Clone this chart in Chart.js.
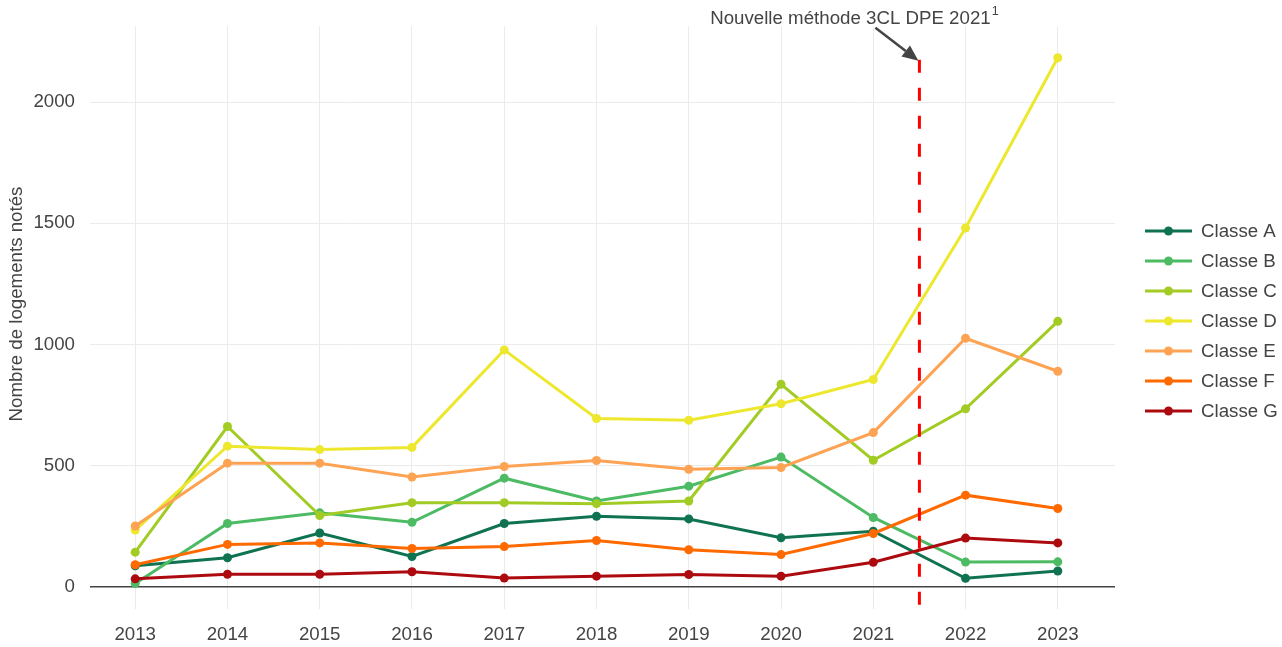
<!DOCTYPE html>
<html>
<head>
<meta charset="utf-8">
<script src="https://cdn.jsdelivr.net/npm/chart.js@4/dist/chart.umd.min.js"></script>
<style>
  html, body { margin: 0; padding: 0; background: #fff; }
  #wrap { width: 1282px; height: 647px; position: relative; }
</style>
</head>
<body>
<div id="wrap"><canvas id="c" width="1282" height="647"></canvas></div>
<script>
const years = [2013, 2014, 2015, 2016, 2017, 2018, 2019, 2020, 2021, 2022, 2023];
const yTickValues = [0, 500, 1000, 1500, 2000];
const seriesNames = ['Classe A', 'Classe B', 'Classe C', 'Classe D', 'Classe E', 'Classe F', 'Classe G'];
const classeA = [88, 121, 223, 126, 262, 292, 281, 203, 230, 36, 66];
const classeB = [15, 262, 306, 267, 449, 355, 416, 536, 287, 103, 104];
const classeC = [144, 662, 295, 348, 348, 344, 355, 836, 523, 735, 1096];
const classeD = [235, 581, 567, 576, 978, 695, 688, 756, 856, 1481, 2183];
const classeE = [252, 511, 511, 454, 497, 522, 486, 493, 637, 1026, 890];
const classeF = [92, 176, 182, 159, 167, 192, 154, 134, 221, 379, 324];
const classeG = [34, 53, 53, 63, 37, 45, 52, 45, 102, 202, 182];
const seriesColors = ['#0f7352', '#4dbb63', '#a2cb24', '#ede82e', '#fea353', '#ff6a00', '#ad0a10'];
const methodYear = 2021.5;
const annotationText = 'Nouvelle méthode 3CL DPE 2021';
const annotationSup = '1';
const yTitle = 'Nombre de logements notés';

const allSeries = [classeA, classeB, classeC, classeD, classeE, classeF, classeG];
const FONT = '"Liberation Sans", Arial, sans-serif';
const FS = 18.7;
const TEXT = '#444';

const datasets = allSeries.map((vals, i) => ({
  label: seriesNames[i],
  data: years.map((y, j) => ({ x: y, y: vals[j] })),
  borderColor: seriesColors[i],
  backgroundColor: seriesColors[i],
  pointBackgroundColor: seriesColors[i],
  pointBorderColor: seriesColors[i],
  borderWidth: 3,
  pointRadius: 4.5,
  pointBorderWidth: 0,
  tension: 0,
  order: seriesNames.length - 1 - i
}));

const overlayPlugin = {
  id: 'overlay',
  afterDatasetsDraw(chart) {
    const ctx = chart.ctx;
    const xs = chart.scales.x, ys = chart.scales.y;
    const xPix = xs.getPixelForValue(methodYear);
    const topPix = ys.getPixelForValue(2175);
    const botPix = chart.chartArea.bottom + 10;
    // dashed vertical line
    ctx.save();
    ctx.strokeStyle = '#ff0000';
    ctx.lineWidth = 3;
    ctx.setLineDash([13, 15]);
    ctx.beginPath();
    ctx.moveTo(xPix, topPix);
    ctx.lineTo(xPix, botPix);
    ctx.stroke();
    ctx.restore();

    // arrow
    ctx.save();
    const tipX = xPix - 1, tipY = topPix + 1;
    const tailX = tipX - 43, tailY = tipY - 33;
    const ang = Math.atan2(tipY - tailY, tipX - tailX);
    const headLen = 16, headW = 7;
    const baseX = tipX - headLen * Math.cos(ang), baseY = tipY - headLen * Math.sin(ang);
    ctx.strokeStyle = '#444';
    ctx.fillStyle = '#444';
    ctx.lineWidth = 2.5;
    ctx.beginPath();
    ctx.moveTo(tailX, tailY);
    ctx.lineTo(baseX, baseY);
    ctx.stroke();
    ctx.beginPath();
    ctx.moveTo(tipX, tipY);
    ctx.lineTo(baseX + headW * Math.sin(ang), baseY - headW * Math.cos(ang));
    ctx.lineTo(baseX - headW * Math.sin(ang), baseY + headW * Math.cos(ang));
    ctx.closePath();
    ctx.fill();

    // annotation text
    ctx.font = FS + 'px ' + FONT;
    ctx.fillStyle = TEXT;
    ctx.textBaseline = 'alphabetic';
    const w1 = ctx.measureText(annotationText).width;
    ctx.font = '12.5px ' + FONT;
    const w2 = ctx.measureText(annotationSup).width;
    const total = w1 + w2 + 1;
    const cx = tailX - 21;
    const startX = cx - total / 2;
    ctx.font = FS + 'px ' + FONT;
    ctx.textAlign = 'left';
    ctx.fillText(annotationText, startX, 24);
    ctx.font = '12.5px ' + FONT;
    ctx.fillText(annotationSup, startX + w1 + 1, 15);
    ctx.restore();

    // legend
    ctx.save();
    ctx.font = FS + 'px ' + FONT;
    ctx.textBaseline = 'middle';
    ctx.textAlign = 'left';
    chart.data.datasets.forEach((ds, i) => {
      const y = 231 + i * 30;
      ctx.strokeStyle = ds.borderColor;
      ctx.lineWidth = 3;
      ctx.beginPath();
      ctx.moveTo(1145, y);
      ctx.lineTo(1192, y);
      ctx.stroke();
      ctx.fillStyle = ds.borderColor;
      ctx.beginPath();
      ctx.arc(1168.5, y, 4.5, 0, Math.PI * 2);
      ctx.fill();
      ctx.fillStyle = TEXT;
      ctx.fillText(ds.label, 1201, y + 1);
    });
    ctx.restore();

    // y title
    ctx.save();
    ctx.font = FS + 'px ' + FONT;
    ctx.fillStyle = TEXT;
    ctx.textAlign = 'center';
    ctx.textBaseline = 'middle';
    ctx.translate(17, 304);
    ctx.rotate(-Math.PI / 2);
    ctx.fillText(yTitle, 0, 0);
    ctx.restore();
  }
};

new Chart(document.getElementById('c'), {
  type: 'line',
  data: { datasets },
  plugins: [overlayPlugin],
  options: {
    responsive: false,
    animation: false,
    devicePixelRatio: 1,
    layout: { padding: { left: 0, right: 167, top: 19, bottom: 0 } },
    plugins: { legend: { display: false }, tooltip: { enabled: false } },
    scales: {
      x: {
        type: 'linear',
        min: 2012.51,
        max: 2023.62,
        afterBuildTicks: s => { s.ticks = years.map(v => ({ value: v })); },
        afterFit: s => { s.height = 38; },
        grid: { color: '#ebebeb', lineWidth: 1, drawTicks: false },
        border: { display: false },
        ticks: {
          padding: 15,
          color: TEXT,
          font: { size: FS, family: FONT },
          maxRotation: 0,
          callback: v => String(v)
        }
      },
      y: {
        type: 'linear',
        min: -90.5,
        max: 2313,
        afterBuildTicks: s => { s.ticks = yTickValues.map(v => ({ value: v })); },
        afterFit: s => { s.width = 90; },
        grid: {
          color: ctx => (ctx.tick && ctx.tick.value === 0) ? '#444' : '#ebebeb',
          lineWidth: ctx => (ctx.tick && ctx.tick.value === 0) ? 1.5 : 1,
          drawTicks: false
        },
        border: { display: false },
        ticks: {
          padding: 15,
          color: TEXT,
          font: { size: FS, family: FONT },
          callback: v => String(v)
        },
        title: { display: false }
      }
    }
  }
});
</script>
</body>
</html>
